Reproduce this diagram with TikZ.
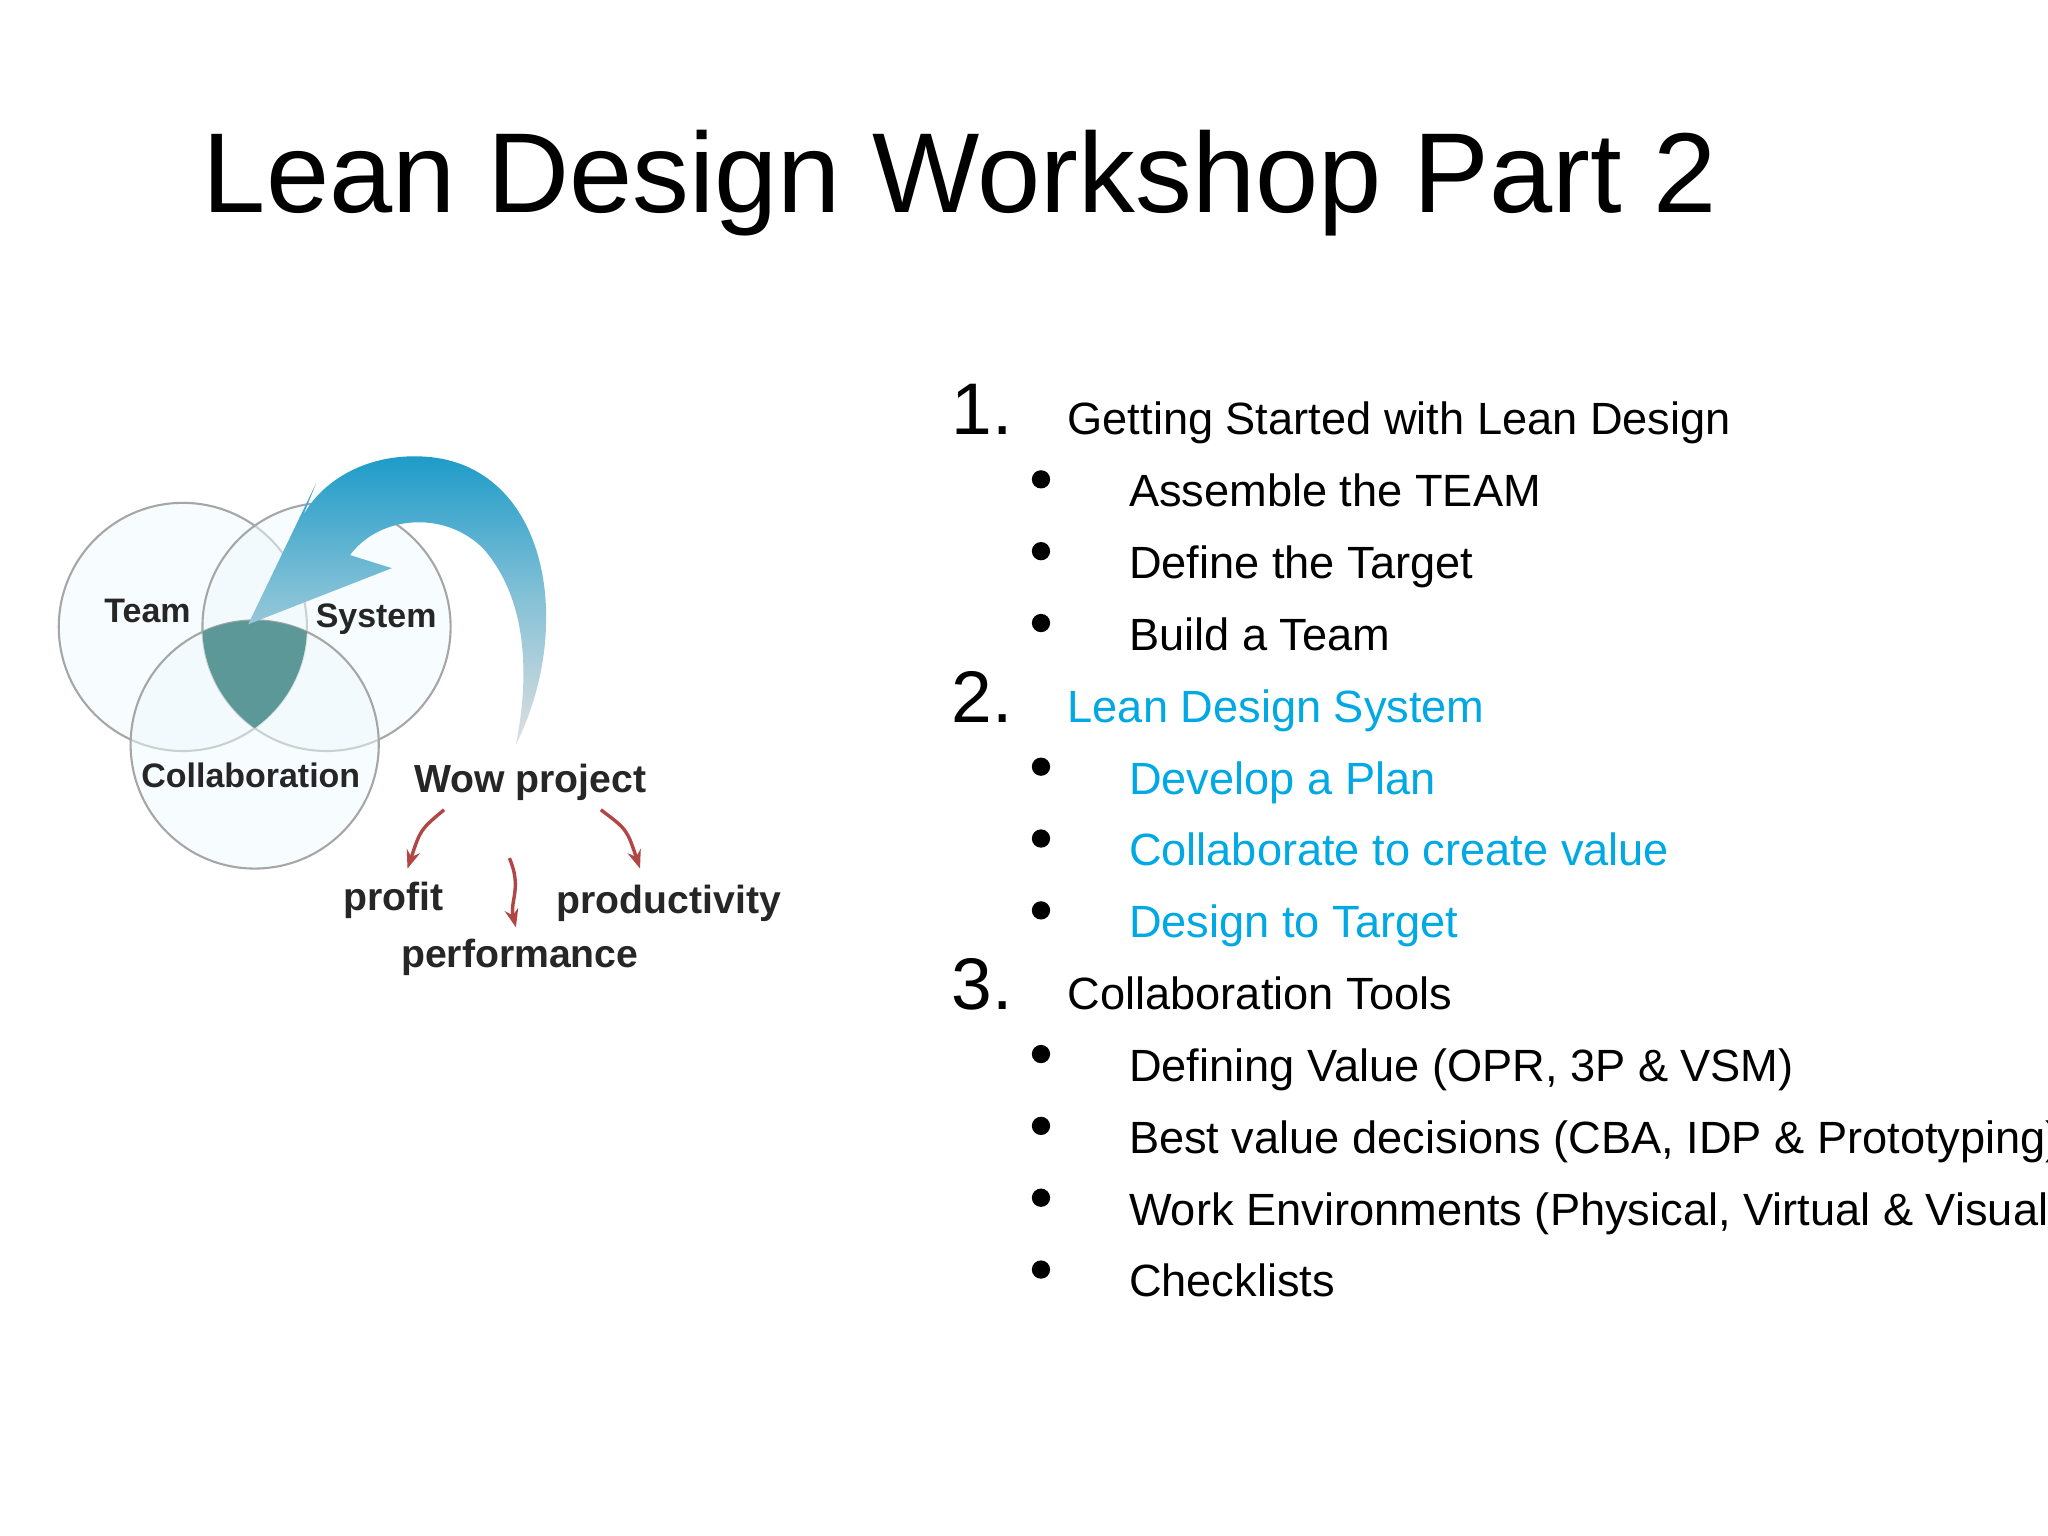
\documentclass[tikz,border=0pt]{standalone}
\usepackage{fontspec}
\setmainfont{Liberation Sans}
\usetikzlibrary{arrows.meta}
\definecolor{lblue}{RGB}{0,168,228}
\definecolor{teal2}{RGB}{92,152,152}
\definecolor{redar}{RGB}{176,70,70}
\begin{document}
\begin{tikzpicture}[x=0.5pt,y=-0.5pt,
  item/.style={anchor=base west,inner sep=0pt,font=\fontsize{17.3}{20}\selectfont},
  num/.style={anchor=base,font=\fontsize{28}{32}\selectfont},
  bul/.style={circle,fill=black,inner sep=0pt,minimum size=7pt},
  dlab/.style={font=\fontsize{13}{15}\selectfont\bfseries,text=black!85},
  bub/.style={draw=gray!70,line width=0.8pt,fill=cyan!6,fill opacity=0.5},
  rarr/.style={draw=redar,line width=1.3pt,-{Stealth[length=7pt]}}]
\useasboundingbox (0,0) rectangle (1568,1176);
\clip (0,0) rectangle (1568,1176);
\fill[white] (0,0) rectangle (1568,1176);
\node[anchor=base west,inner sep=0pt,font=\fontsize{43.5}{50}\selectfont] (title) at (155,163) {Lean Design Workshop Part 2};
% bubbles
\draw[bub] (140,480) circle (95);
\draw[bub] (250,480) circle (95);
\draw[bub] (195,570) circle (95);
\begin{scope}
\clip (140,480) circle (95);
\clip (250,480) circle (95);
\fill[teal2] (195,570) circle (95);
\end{scope}
% blue arrow
\shade[top color=lblue!85!black!90,bottom color=gray!25,middle color=lblue!60!gray!60] (395,570) .. controls (440,480) and (420,360) .. (330,350)
  .. controls (280,345) and (245,370) .. (232,395) -- (242,370) -- (190,478)
  -- (300,435) -- (268,425) .. controls (290,395) and (340,390) .. (370,420)
  .. controls (405,460) and (405,520) .. (395,570) -- cycle;
\node[dlab] (team) at (113,468) {Team};
\node[dlab] (sys) at (288,474) {System};
\node[dlab] (col) at (192,594) {Collaboration};
\node[dlab,font=\fontsize{15}{17}\selectfont\bfseries] (wow) at (406,599) {Wow project};
\node[dlab,font=\fontsize{15}{17}\selectfont\bfseries] (profit) at (301,689) {profit};
\node[dlab,font=\fontsize{15}{17}\selectfont\bfseries] (prod) at (512,692) {productivity};
\node[dlab,font=\fontsize{15}{17}\selectfont\bfseries] (perf) at (398,733) {performance};
\draw[rarr] (340,620) .. controls (322,635) .. (312,665);
\draw[rarr] (460,620) .. controls (480,635) .. (490,665);
\draw[rarr] (390,657) .. controls (400,680) and (390,690) .. (395,710);
% list
\node[num] (n1) at (752,333) {1.};
\node[item] (h1) at (817,333) {Getting Started with Lean Design};
\node[num] (n2) at (752,553) {2.};
\node[item,text=lblue] (h2) at (817,553) {Lean Design System};
\node[num] (n3) at (752,773) {3.};
\node[item] (h3) at (817,773) {Collaboration Tools};
\foreach \y/\t/\c in {388/Assemble the TEAM/black,443/Define the Target/black,498/Build a Team/black,
  608/Develop a Plan/lblue,663/Collaborate to create value/lblue,718/Design to Target/lblue,
  828/{Defining Value (OPR, 3P \& VSM)}/black,883/{Best value decisions (CBA, IDP \& Prototyping)}/black,
  938/{Work Environments (Physical, Virtual \& Visual)}/black,993/Checklists/black}{
  \node[bul] at (797,\y-21) {};
  \node[item,text=\c] at (864,\y) {\t};
}
\end{tikzpicture}
\end{document}
